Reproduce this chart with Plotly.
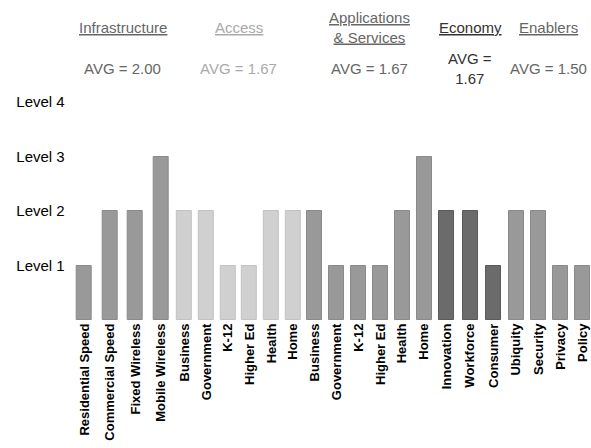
import plotly.graph_objects as go

# Maturity level per item, grouped by area
infra_labels = ["Residential Speed", "Commercial Speed", "Fixed Wireless", "Mobile Wireless"]
infra_levels = [1, 2, 2, 3]

access_labels = ["Business", "Government", "K-12", "Higher Ed", "Health", "Home"]
access_levels = [2, 2, 1, 1, 2, 2]

apps_labels = ["Business", "Government", "K-12", "Higher Ed", "Health", "Home"]
apps_levels = [2, 1, 1, 1, 2, 3]

econ_labels = ["Innovation", "Workforce", "Consumer"]
econ_levels = [2, 2, 1]

enabler_labels = ["Ubiquity", "Security", "Privacy", "Policy"]
enabler_levels = [2, 2, 1, 1]

level_values = [1, 2, 3, 4]
level_text = ["Level 1", "Level 2", "Level 3", "Level 4"]

W, H = 591, 448
M_T, M_B = 94, 128
FONT = "Arial, Liberation Sans, sans-serif"

groups = [
    # title, labels, levels, header colour, fill, edge, x-domain in px, wrap avg
    ("<u>Infrastructure</u>", infra_labels, infra_levels, "#666666", "#999999", "#8a8a8a", (71.7, 173.8), False),
    ("<u>Access</u>", access_labels, access_levels, "#aaaaaa", "#d0d0d0", "#c2c2c2", (173.8, 304.0), False),
    ("<u>Applications</u><br><u>&amp; Services</u>", apps_labels, apps_levels, "#666666", "#999999", "#8a8a8a", (304.0, 435.0), False),
    ("<u>Economy</u>", econ_labels, econ_levels, "#333333", "#6b6b6b", "#5a5a5a", (435.0, 505.0), True),
    ("<u>Enablers</u>", enabler_labels, enabler_levels, "#666666", "#999999", "#8a8a8a", (505.0, 591.0), False),
]

BAR_PX = 15.0
plot_h = H - M_T - M_B


def py(pixel_y):
    """Convert a pixel row into paper coordinates."""
    return (H - M_B - pixel_y) / plot_h


fig = go.Figure()
annotations = []
layout_axes = {}

for i, (title, labels, levels, head_col, fill, edge, (x0, x1), wrap) in enumerate(groups):
    n = len(labels)
    ax = "x" if i == 0 else f"x{i + 1}"
    ax_key = "xaxis" if i == 0 else f"xaxis{i + 1}"
    x_hi = n - 0.5
    if i == len(groups) - 1:
        x_hi = n - 0.64
    pitch = (x1 - x0) / (x_hi + 0.5)
    fig.add_trace(go.Bar(
        x=list(range(n)), y=levels, xaxis=ax, yaxis="y",
        width=BAR_PX / pitch,
        marker=dict(color=fill, line=dict(color=edge, width=1)),
        showlegend=False, hoverinfo="skip",
    ))
    layout_axes[ax_key] = dict(
        domain=[x0 / W, x1 / W], anchor="y",
        range=[-0.5, x_hi],
        tickmode="array", tickvals=list(range(n)), ticktext=labels,
        tickangle=-90, showgrid=False, zeroline=False, showline=False,
        ticks="", fixedrange=True,
        tickfont=dict(family=FONT, size=13, color="#000000", weight="bold"),
    )
    avg = sum(levels) / n
    avg_txt = f"AVG =<br>{avg:.2f}" if wrap else f"AVG = {avg:.2f}"
    xref = f"{ax} domain"
    annotations.append(dict(
        text=title, xref=xref, yref="paper", x=0.5, y=py(27),
        xanchor="center", yanchor="middle", showarrow=False,
        font=dict(family=FONT, size=15, color=head_col),
    ))
    annotations.append(dict(
        text=avg_txt, xref=xref, yref="paper", x=0.5, y=py(68),
        xanchor="center", yanchor="middle", showarrow=False,
        font=dict(family=FONT, size=15, color=head_col),
    ))

fig.update_layout(
    width=W, height=H,
    margin=dict(l=0, r=0, t=M_T, b=M_B),
    paper_bgcolor="#ffffff", plot_bgcolor="#ffffff",
    bargap=0,
    yaxis=dict(
        range=[0, 4.15], anchor="x",
        tickmode="array", tickvals=level_values, ticktext=level_text,
        showgrid=False, zeroline=False, showline=False, ticks="",
        tickfont=dict(family=FONT, size=15, color="#000000"),
        ticklabelstandoff=6, fixedrange=True,
    ),
    annotations=annotations,
    **layout_axes,
)

fig.write_html("out.html", config={"displayModeBar": False})
